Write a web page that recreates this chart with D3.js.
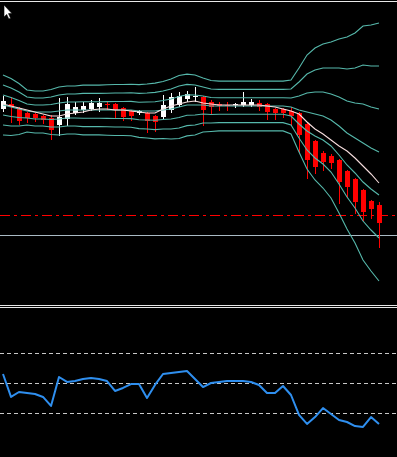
<!DOCTYPE html>
<html><head><meta charset="utf-8">
<script src="https://d3js.org/d3.v7.min.js"></script>
<style>html,body{margin:0;padding:0;background:#000;overflow:hidden}svg{display:block}</style>
</head><body>
<script>
// ---- data (price in chart points) ----
const bars = d3.range(48);
const open  = [191,196,192,187,186,184,182,175,181,187,190,191,193,196,196,192,189,187,187,184,183,190,195,201,203,203,198,196,195,195,195,195,197,196,191,191,189,187,176,159,147,144,140,129,121,110,99,95];
const close = [199,193,179,182,182,180,170,183,196,193,194,197,197,195,190,183,184,189,179,178,195,203,204,206,204,190,193,194,194,196,198,198,193,188,187,187,184,165,140,133,138,137,118,113,98,88,91,77];
const high  = [204,203,193,188,187,185,185,202,203,198,198,200,202,199,197,193,190,190,188,185,205,207,208,209,213,204,200,198,198,197,208,201,200,197,192,192,193,188,178,160,149,146,141,130,122,111,100,98];
const low   = [189,178,176,178,179,177,161,165,175,186,188,190,189,191,182,180,180,186,168,169,182,188,194,199,199,175,187,190,190,193,194,194,190,181,181,183,175,148,122,127,130,132,97,103,87,80,82,53];
const maFast = [196,194,192,190,188,186,184,184,186,187,188,190,191,191,190,190,189,188,187,187,191,194,196,198,199,197,196,195,195,195,195,195,195,194,193,191,189,186,178,171,166,160,154,149,142,134,126,117];
const bandMid = [195,193,191,189,188,188,188,189,190,190,190,190,190,190,190,190,190,189,189,189,190,191,193,195,195,195,194,194,194,194,194,194,194,194,194,194,193,190,188,186,184,180,174,167,162,157,152,148];
const bandDev = [10,9.5,8.5,7,7,7,7.5,8,8,8,8.3,8.3,8.3,8.4,8.5,8.5,8.6,8.8,9,9.3,9.5,10,10.5,10.3,10,9,8.5,8.3,8.3,8.3,8.3,8.3,8.3,8.3,8.3,8.3,9,14,19,22,24,26,29,32,35,39,41,43];
const bandMults = [-3,-2,-1,0,1,2,3];
const levelRed = 85, levelGray = 65;
const rsi = [56,40.7,44,43.3,42.7,40.7,34.7,54,50.7,51.3,52.7,53.3,52.7,51.3,44.7,46.7,49.3,49.3,40,48.7,56,56.7,57.3,58,52.7,47.3,50,50.7,51.3,51.3,51.3,50.7,48.7,43.3,43.3,48,42,28.7,22.7,27.3,33.3,29.3,25.3,24,21.3,20.7,27.3,22.7];
const rsiLevels = [30,50,70];

// ---- layout ----
const W = 397, H = 457;
const svg = d3.select("body").append("svg").attr("width", W).attr("height", H);
svg.append("rect").attr("width", W).attr("height", H).attr("fill", "#000");

const x = d3.scalePoint().domain(bars).range([3, 379]);
const y = d3.scaleLinear().domain([0, 300]).range([300, 0]);
const yr = d3.scaleLinear().domain([0, 100]).range([458, 308]);

const RED = "#ff0000", WHITE = "#ffffff", TEAL = "#56b8ab";

// top border
svg.append("line").attr("x1",0).attr("x2",W).attr("y1",1.5).attr("y2",1.5).attr("stroke","#e8e8e8").attr("stroke-width",1);

// level lines
svg.append("line").attr("x1",0).attr("x2",W).attr("y1",Math.round(y(levelGray))+0.5).attr("y2",Math.round(y(levelGray))+0.5)
  .attr("stroke","#a9bac4").attr("stroke-width",1).attr("shape-rendering","crispEdges");
svg.append("line").attr("x1",0).attr("x2",W).attr("y1",Math.round(y(levelRed))+0.5).attr("y2",Math.round(y(levelRed))+0.5)
  .attr("stroke",RED).attr("stroke-width",1).attr("stroke-dasharray","10,4,3,4").attr("shape-rendering","crispEdges");

// candles
const g = svg.append("g").attr("shape-rendering","crispEdges");
bars.forEach(i => {
  const cx = Math.round(x(i));
  const up = close[i] >= open[i];
  const col = up ? WHITE : RED;
  g.append("line").attr("x1",cx+0.5).attr("x2",cx+0.5)
    .attr("y1",Math.round(y(high[i]))).attr("y2",Math.round(y(low[i]))+1)
    .attr("stroke",col).attr("stroke-width",1);
  const top = Math.round(y(Math.max(open[i],close[i])));
  const bot = Math.round(y(Math.min(open[i],close[i])));
  g.append("rect").attr("x",cx-2).attr("y",top).attr("width",5).attr("height",Math.max(1,bot-top))
    .attr("fill",col);
});

// bands
bandMults.forEach(k => {
  const line = d3.line().x(i => x(i)).y(i => y(bandMid[i] + k*bandDev[i]));
  svg.append("path").attr("d", line(bars)).attr("fill","none").attr("stroke",TEAL).attr("stroke-width",1.1);
});
// fast MA
svg.append("path").attr("d", d3.line().x(i => x(i)).y(i => y(maFast[i]))(bars))
  .attr("fill","none").attr("stroke","#f6dede").attr("stroke-width",1.1);

// panel separator
[305.5, 307.5].forEach(yy => svg.append("line").attr("x1",0).attr("x2",W).attr("y1",yy).attr("y2",yy).attr("stroke","#e6e6e6").attr("stroke-width",1));

// RSI levels
rsiLevels.forEach(l => svg.append("line").attr("x1",0).attr("x2",W)
  .attr("y1",Math.round(yr(l))+0.5).attr("y2",Math.round(yr(l))+0.5)
  .attr("stroke","#c8c8c8").attr("stroke-width",1).attr("stroke-dasharray","4,3").attr("shape-rendering","crispEdges"));
// RSI line
svg.append("path").attr("d", d3.line().x(i => x(i)).y(i => yr(rsi[i]))(bars))
  .attr("fill","none").attr("stroke","#2f8fef").attr("stroke-width",2).attr("stroke-linejoin","round");

// mouse cursor
svg.append("path").attr("d","M4,5 L4,17 L6.7,14.4 L8.8,19 L10.6,18.2 L8.5,13.6 L12,13.6 Z")
  .attr("fill","#fff").attr("stroke","#000").attr("stroke-width",0.6);
</script>
</body></html>
